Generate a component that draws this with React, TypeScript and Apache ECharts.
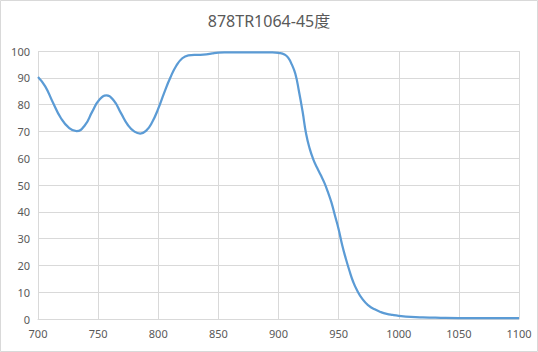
import React, { useEffect, useRef } from "react";
import * as echarts from "echarts";

const title = "878TR1064-45度";
const wavelengths = [
  700, 706, 712, 719, 726, 732, 739, 745, 751, 757, 763, 769, 775, 780, 785, 790, 795,
  800, 805, 810, 815, 820, 825, 830, 835, 840, 845, 850, 855, 860, 870, 880, 890, 895, 900, 905, 908,
  911, 914, 917, 920, 923, 926, 929, 932, 935, 938, 941, 944, 947, 950, 953, 956, 959, 962, 965, 970,
  975, 980, 985, 990, 995, 1000, 1010, 1020, 1035, 1050, 1075, 1100,
];
const transmittance = [
  90.3, 86.8, 81.2, 75.0, 71.2, 70.1, 72.3, 77.3, 81.8, 83.4, 81.5, 76.8, 72.2, 70.0, 69.2, 70.3, 73.5,
  78.5, 84.5, 90, 94.5, 97.3, 98.4, 98.6, 98.6, 98.7, 99.1, 99.4, 99.5, 99.5, 99.5, 99.5, 99.5, 99.5, 99.3, 98.7, 97.5,
  95, 91.5, 85, 77.5, 69, 63.5, 59.5, 56.5, 53.8, 51, 47.5, 43.5, 38.5, 33.5, 27.5, 22.5, 18, 14, 11, 7.3,
  5, 3.6, 2.6, 1.9, 1.5, 1.2, 0.8, 0.6, 0.45, 0.35, 0.3, 0.3,
];

export default function App() {
  const ref = useRef<HTMLDivElement>(null);
  useEffect(() => {
    document.body.style.margin = "0";
    const chart = echarts.init(ref.current!, null, { renderer: "svg" });
    const font = "'Noto Sans', 'Noto Sans CJK SC', sans-serif";
    chart.setOption({
      animation: false,
      backgroundColor: "#ffffff",
      title: {
        text: title,
        left: "center",
        top: 8,
        textStyle: { fontFamily: font, fontSize: 16, fontWeight: "normal", color: "#595959" },
      },
      graphic: [
        {
          type: "rect",
          shape: { x: 0.5, y: 0.5, width: 537, height: 351 },
          style: { fill: "none", stroke: "#d9d9d9", lineWidth: 1 },
          silent: true,
        },
      ],
      grid: { left: 38, right: 19, top: 51, bottom: 33 },
      xAxis: {
        type: "value",
        min: 700,
        max: 1100,
        interval: 50,
        axisLine: { show: true, lineStyle: { color: "#d9d9d9" } },
        axisTick: { show: false },
        axisLabel: {
          color: "#595959",
          fontSize: 11,
          fontFamily: font,
          margin: 9,
          formatter: (v: number) => String(v),
        },
        splitLine: { show: true, lineStyle: { color: "#d9d9d9" } },
      },
      yAxis: {
        type: "value",
        min: 0,
        max: 100,
        interval: 10,
        axisLine: { show: false },
        axisTick: { show: false },
        axisLabel: { color: "#595959", fontSize: 11, fontFamily: font, margin: 8 },
        splitLine: { show: true, lineStyle: { color: "#d9d9d9" } },
      },
      series: [
        {
          type: "line",
          data: wavelengths.map((w, i) => [w, transmittance[i]]),
          smooth: 0.5,
          showSymbol: false,
          lineStyle: { color: "#5B9BD5", width: 2.25 },
          itemStyle: { color: "#5B9BD5" },
        },
      ],
    });
    return () => chart.dispose();
  }, []);
  return <div ref={ref} style={{ width: 538, height: 352 }} />;
}
